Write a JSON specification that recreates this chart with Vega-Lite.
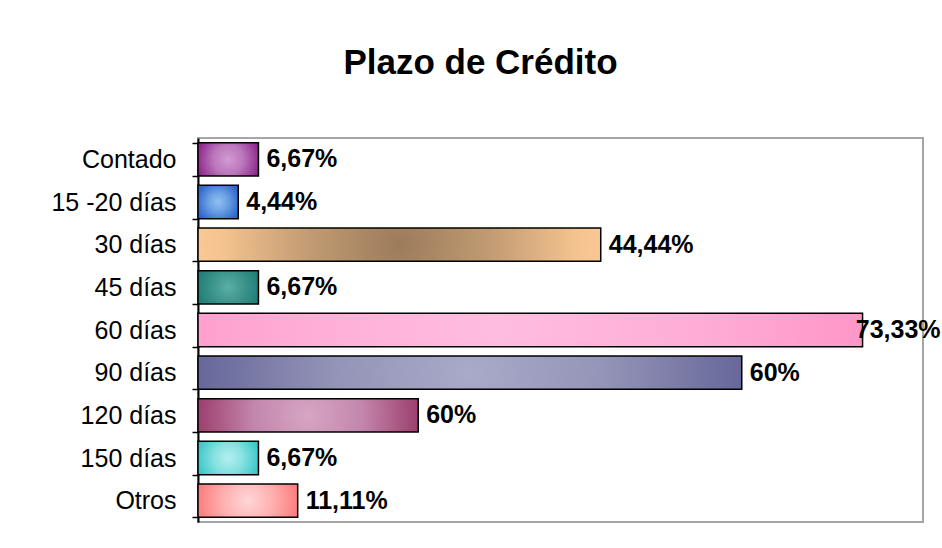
{
  "$schema": "https://vega.github.io/schema/vega-lite/v6.json",
  "autosize": "none",
  "width": 725,
  "height": 384,
  "padding": {"left": 198, "top": 138, "right": 19, "bottom": 26},
  "background": "white",
  "title": {
    "text": "Plazo de Crédito",
    "font": "Liberation Sans",
    "fontSize": 35,
    "fontWeight": "bold",
    "color": "black",
    "anchor": "middle",
    "frame": "group",
    "dx": -80,
    "baseline": "alphabetic",
    "offset": 17
  },
  "config": {
    "view": {"stroke": "#a6a6a6", "strokeWidth": 2},
    "font": "Liberation Sans"
  },
  "data": {
    "values": [
      {"plazo": "Contado", "valor": 6.67, "etiqueta": "6,67%"},
      {"plazo": "15 -20 días", "valor": 4.44, "etiqueta": "4,44%"},
      {"plazo": "30 días", "valor": 44.44, "etiqueta": "44,44%"},
      {"plazo": "45 días", "valor": 6.67, "etiqueta": "6,67%"},
      {"plazo": "60 días", "valor": 73.33, "etiqueta": "73,33%"},
      {"plazo": "90 días", "valor": 60, "etiqueta": "60%"},
      {"plazo": "120 días", "valor": 24.3, "etiqueta": "60%"},
      {"plazo": "150 días", "valor": 6.67, "etiqueta": "6,67%"},
      {"plazo": "Otros", "valor": 11.0, "etiqueta": "11,11%"}
    ]
  },
  "encoding": {
    "y": {
      "field": "plazo",
      "type": "nominal",
      "sort": null,
      "scale": {"paddingInner": 0.22, "paddingOuter": 0.11},
      "axis": {
        "title": null,
        "labelFont": "Liberation Sans",
        "labelFontSize": 25,
        "labelColor": "black",
        "labelPadding": 16,
        "domainColor": "black",
        "domainWidth": 2,
        "tickColor": "black",
        "tickWidth": 1.5,
        "tickSize": 6,
        "tickBand": "extent",
        "grid": false
      }
    },
    "x": {
      "field": "valor",
      "type": "quantitative",
      "scale": {"domain": [0, 80], "nice": false},
      "axis": null
    }
  },
  "layer": [
    {
      "transform": [{"filter": "datum.plazo === 'Contado'"}],
      "mark": {"type": "bar", "stroke": "black", "strokeWidth": 1.5,
        "fill": {"gradient": "radial", "x1": 0.5, "y1": 0.5, "r1": 0, "x2": 0.5, "y2": 0.5, "r2": 0.55,
          "stops": [{"offset": 0, "color": "#d29bd2"}, {"offset": 0.45, "color": "#bb77bb"}, {"offset": 1, "color": "#8a1f8a"}]}}
    },
    {
      "transform": [{"filter": "datum.plazo === '15 -20 días'"}],
      "mark": {"type": "bar", "stroke": "black", "strokeWidth": 1.5,
        "fill": {"gradient": "radial", "x1": 0.5, "y1": 0.5, "r1": 0, "x2": 0.5, "y2": 0.5, "r2": 0.55,
          "stops": [{"offset": 0, "color": "#90c0f0"}, {"offset": 0.45, "color": "#6a9fe2"}, {"offset": 1, "color": "#2e66cc"}]}}
    },
    {
      "transform": [{"filter": "datum.plazo === '30 días'"}],
      "mark": {"type": "bar", "stroke": "black", "strokeWidth": 1.5,
        "fill": {"gradient": "radial", "x1": 0.5, "y1": 0.5, "r1": 0, "x2": 0.5, "y2": 0.5, "r2": 0.55,
          "stops": [{"offset": 0, "color": "#9c7b5b"}, {"offset": 0.4, "color": "#c09a72"}, {"offset": 0.8, "color": "#f4c38f"}, {"offset": 1, "color": "#fccb96"}]}}
    },
    {
      "transform": [{"filter": "datum.plazo === '45 días'"}],
      "mark": {"type": "bar", "stroke": "black", "strokeWidth": 1.5,
        "fill": {"gradient": "radial", "x1": 0.5, "y1": 0.5, "r1": 0, "x2": 0.5, "y2": 0.5, "r2": 0.55,
          "stops": [{"offset": 0, "color": "#5aaea5"}, {"offset": 0.45, "color": "#3f968d"}, {"offset": 1, "color": "#1d7c75"}]}}
    },
    {
      "transform": [{"filter": "datum.plazo === '60 días'"}],
      "mark": {"type": "bar", "stroke": "black", "strokeWidth": 1.5,
        "fill": {"gradient": "radial", "x1": 0.45, "y1": 0.5, "r1": 0, "x2": 0.45, "y2": 0.5, "r2": 0.6,
          "stops": [{"offset": 0, "color": "#ffbde0"}, {"offset": 0.5, "color": "#ffadd6"}, {"offset": 1, "color": "#ff92c6"}]}}
    },
    {
      "transform": [{"filter": "datum.plazo === '90 días'"}],
      "mark": {"type": "bar", "stroke": "black", "strokeWidth": 1.5,
        "fill": {"gradient": "radial", "x1": 0.5, "y1": 0.5, "r1": 0, "x2": 0.5, "y2": 0.5, "r2": 0.55,
          "stops": [{"offset": 0, "color": "#a9a9c9"}, {"offset": 0.45, "color": "#9494b8"}, {"offset": 1, "color": "#5e5e94"}]}}
    },
    {
      "transform": [{"filter": "datum.plazo === '120 días'"}],
      "mark": {"type": "bar", "stroke": "black", "strokeWidth": 1.5,
        "fill": {"gradient": "radial", "x1": 0.5, "y1": 0.5, "r1": 0, "x2": 0.5, "y2": 0.5, "r2": 0.55,
          "stops": [{"offset": 0, "color": "#d6a6c4"}, {"offset": 0.45, "color": "#c386ac"}, {"offset": 1, "color": "#953262"}]}}
    },
    {
      "transform": [{"filter": "datum.plazo === '150 días'"}],
      "mark": {"type": "bar", "stroke": "black", "strokeWidth": 1.5,
        "fill": {"gradient": "radial", "x1": 0.5, "y1": 0.5, "r1": 0, "x2": 0.5, "y2": 0.5, "r2": 0.55,
          "stops": [{"offset": 0, "color": "#b4f0f0"}, {"offset": 0.45, "color": "#86e0e0"}, {"offset": 1, "color": "#33c4c4"}]}}
    },
    {
      "transform": [{"filter": "datum.plazo === 'Otros'"}],
      "mark": {"type": "bar", "stroke": "black", "strokeWidth": 1.5,
        "fill": {"gradient": "radial", "x1": 0.5, "y1": 0.5, "r1": 0, "x2": 0.5, "y2": 0.5, "r2": 0.55,
          "stops": [{"offset": 0, "color": "#ffd6d6"}, {"offset": 0.45, "color": "#ffb0b0"}, {"offset": 1, "color": "#fb7575"}]}}
    },
    {
      "transform": [{"filter": "datum.valor < 70"}],
      "mark": {"type": "text", "align": "left", "baseline": "middle", "dx": 8, "font": "Liberation Sans", "fontSize": 25, "fontWeight": "bold", "color": "black"},
      "encoding": {"text": {"field": "etiqueta"}}
    },
    {
      "transform": [{"filter": "datum.valor >= 70"}],
      "mark": {"type": "text", "align": "right", "baseline": "middle", "dx": 78, "font": "Liberation Sans", "fontSize": 25, "fontWeight": "bold", "color": "black"},
      "encoding": {"text": {"field": "etiqueta"}}
    }
  ]
}
